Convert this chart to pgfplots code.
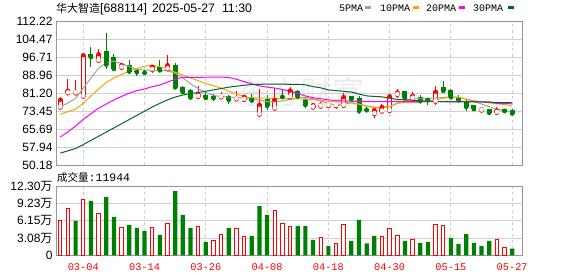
\documentclass[border=0pt]{standalone}
\usepackage{pgfplots}
\pgfplotsset{compat=1.18}
\usepackage{pgfplotstable}
\usepackage{fontspec}
\setmainfont{Liberation Sans}
\newfontfamily\cjk{Noto Sans CJK SC}
\newfontfamily\monof{Liberation Mono}
\definecolor{kred}{RGB}{255,0,0}
\definecolor{kgreen}{RGB}{0,128,0}
\definecolor{maA}{RGB}{160,160,160}
\definecolor{maB}{RGB}{240,168,0}
\definecolor{maC}{RGB}{255,0,255}
\definecolor{maD}{RGB}{0,102,51}
\definecolor{gridc}{RGB}{208,208,208}
\definecolor{framec}{RGB}{150,150,150}
\definecolor{wmark}{RGB}{236,236,236}

% red (rising) candles: index open high low close
\pgfplotstableread{
x o h l c
0 75.17 79.48 74.9 78.33
1 81.35 87.2 81.35 82.2
2 81.3 86.9 81.0 81.5
3 79.9 97.57 79.9 97.57
5 95.4 100.2 94.3 98.0
8 92.4 94.4 91.0 93.3
12 91.4 92.8 89.8 92.55
14 91.7 97.7 90.8 93.3
18 79.8 84.1 79.3 80.5
21 79.6 81.6 79.5 79.7
23 78.7 82.1 78.5 79.0
24 78.5 80.2 77.9 79.6
26 72.16 83.2 72.16 76.2
28 74.7 83.4 73.9 78.3
30 79.6 83.8 79.3 82.3
33 75.2 76.9 75.2 76.0
34 75.6 77.2 75.5 76.0
35 75.8 76.3 74.9 75.8
36 75.8 75.9 74.3 75.8
37 76.0 81.2 75.2 79.5
41 72.4 74.7 70.3 73.9
42 73.45 76.3 73.0 75.2
43 73.7 80.2 73.7 79.9
44 80.6 83.1 78.9 81.5
46 79.05 81.8 78.6 80.05
49 77.6 84.2 76.2 81.8
55 73.9 75.0 73.9 74.3
57 72.9 75.1 72.9 73.7
}\upc

% green (falling) candles
\pgfplotstableread{
x o h l c
4 97.86 101.0 92.4 96.99
6 99.3 107.05 91.8 93.7
7 96.4 98.2 90.97 91.8
9 93.0 95.3 90.7 90.7
10 90.4 91.2 88.7 90.4
11 90.1 91.1 89.0 90.1
13 92.1 95.6 91.1 91.25
15 93.0 94.1 83.6 83.9
16 83.8 84.2 81.8 81.8
17 82.5 82.8 78.5 79.5
19 80.3 81.1 79.2 79.3
20 79.8 80.9 77.8 79.2
22 79.9 80.6 76.6 78.5
25 79.3 80.9 77.9 78.2
27 78.6 80.6 73.9 75.9
29 79.7 82.9 78.9 79.7
31 81.9 82.6 79.3 79.9
32 78.3 79.2 74.6 76.3
38 79.8 80.05 78.3 78.8
39 78.8 79.8 72.4 73.7
40 74.0 75.7 73.0 74.0
45 81.9 82.3 79.05 79.3
47 79.3 80.3 77.9 77.9
48 78.3 79.2 76.0 78.3
50 83.5 86.5 82.35 82.35
51 82.35 83.2 79.2 79.6
52 79.3 80.5 78.3 78.3
53 77.0 78.3 73.7 75.5
54 76.0 76.0 74.0 74.5
56 74.0 74.3 71.9 72.9
58 74.0 74.0 72.6 73.6
59 73.6 74.3 72.0 72.6
}\dnc

% moving averages: 5, 10, 20, 30
\pgfplotstableread{
x a b c d
0 75.2 72.1 62.3 55.3
1 77.0 73.2 64.5 56.3
2 78.9 74.3 67.0 57.3
3 83.3 76.8 69.9 59.0
4 87.8 80.0 72.3 60.8
5 92.0 83.0 74.7 62.6
6 94.3 85.8 76.5 64.4
7 95.0 87.7 78.3 66.2
8 94.0 89.2 79.8 68.0
9 92.7 90.8 81.2 69.8
10 91.5 91.8 82.3 71.6
11 91.2 92.8 83.0 73.4
12 91.0 93.3 84.0 75.2
13 90.9 92.6 84.7 76.8
14 90.9 91.6 86.0 78.3
15 89.8 90.2 87.2 79.5
16 87.8 89.0 88.0 80.4
17 85.2 87.8 88.0 81.0
18 83.2 86.6 88.0 81.5
19 81.4 85.4 88.1 82.0
20 80.2 84.4 88.1 82.6
21 79.7 83.4 88.1 83.2
22 79.4 82.0 88.0 83.8
23 79.3 80.8 87.2 84.2
24 79.1 79.7 86.2 84.6
25 78.8 79.2 85.2 84.9
26 78.2 79.1 84.3 85.0
27 77.6 79.0 83.8 85.1
28 77.5 78.9 83.4 85.1
29 77.8 78.8 82.8 85.1
30 78.5 78.8 82.0 85.0
31 79.2 78.7 81.0 85.0
32 79.4 78.6 80.0 84.8
33 78.8 78.4 79.2 84.0
34 77.7 78.1 78.8 83.5
35 76.8 77.7 78.3 82.6
36 76.0 77.4 78.0 82.3
37 76.5 77.2 77.8 82.0
38 77.0 77.0 77.7 81.7
39 76.4 76.5 77.6 80.8
40 75.5 75.7 77.5 80.0
41 75.0 75.2 77.5 79.8
42 74.9 75.2 77.5 79.6
43 75.3 75.5 77.5 79.0
44 76.8 76.8 77.5 78.5
45 78.0 77.2 77.5 78.3
46 78.9 77.2 77.5 78.1
47 78.9 77.3 77.5 77.9
48 78.9 77.6 77.5 77.8
49 79.1 78.2 77.5 77.7
50 79.4 79.0 77.6 77.5
51 79.5 79.5 77.7 77.4
52 79.4 79.5 77.7 77.4
53 78.6 78.6 77.6 77.4
54 77.6 78.0 77.5 77.4
55 76.5 77.5 77.5 77.4
56 75.3 77.0 77.4 77.3
57 74.3 76.6 76.8 77.2
58 73.6 76.3 76.7 77.1
59 73.2 75.7 76.6 77.1
}\mav

% volume (10k shares), red = up vs previous close
\pgfplotstableread{
x v
0 6.09
1 8.34
3 9.93
5 7.45
8 4.97
12 4.97
14 5.68
18 5.14
20 2.54
21 3.73
23 4.67
24 3.37
28 7.87
29 5.68
30 5.09
34 3.19
36 2.13
37 5.5
42 3.37
43 4.79
44 3.55
46 2.84
49 5.5
50 5.32
57 2.84
58 1.30
}\volr

\pgfplotstableread{
x v
2 6.09
4 9.64
6 10.35
7 6.80
9 5.38
10 4.85
11 4.32
13 3.61
15 11.41
16 7.16
17 4.85
19 2.37
22 4.85
25 3.43
26 8.75
27 7.16
31 5.2
32 5.2
33 2.72
35 1.66
38 2.54
39 6.27
40 2.13
41 3.43
45 2.54
47 2.19
48 2.37
51 3.08
52 2.01
53 3.78
54 2.19
55 1.66
56 2.54
59 1.19
}\volg

\pgfplotsset{
  kbase/.style={
    scale only axis, width=466.3pt,
    xmin=-0.56, xmax=60.32,
    axis line style={draw=framec, line width=1pt},
    major tick length=0pt,
    xtick={3,11,19,27,35,43,51,59},
    xmajorgrids, ymajorgrids,
    x grid style={gridc, dash pattern=on 3pt off 3pt, line width=0.9pt},
    y grid style={gridc, line width=0.9pt},
    yticklabel style={font=\fontsize{12}{12}\selectfont, anchor=east, inner sep=0pt, xshift=-3.3pt, text=black},
  },
  wick/.style={only marks, mark=none, color=#1, error bars/.cd, y dir=both, y explicit, error mark=none,
    error bar style={color=#1, solid, line width=1pt}},
  body/.style 2 args={only marks, mark=none, color=#1, error bars/.cd, y dir=plus, y explicit, error mark=none,
    error bar style={color=#1, solid, line width=#2}},
}

\begin{document}
\begin{tikzpicture}[x=1pt,y=1pt]
\useasboundingbox (0,0) rectangle (578,276);
% watermark
\node[anchor=center, text=wmark, inner sep=0] at (300,184) {\cjk\fontsize{32}{32}\selectfont 东方财富};

% title
\node[anchor=base west, inner sep=0] at (56,263.5) {\cjk\fontsize{11}{12}\selectfont 华大智造\rmfamily\fontsize{12.3}{13}\selectfont[688114]\hspace{5pt}2025-05-27\hspace{7pt}11:30};

% legend
\node[anchor=base west, inner sep=0] at (339,264.3) {\monof\fontsize{10}{10}\selectfont 5PMA};
\fill[maA] (365,266.8) rectangle (371,269.5);
\node[anchor=base west, inner sep=0] at (380,264.3) {\monof\fontsize{10}{10}\selectfont 10PMA};
\fill[maB] (413,266.8) rectangle (419,269.5);
\node[anchor=base west, inner sep=0] at (426,264.3) {\monof\fontsize{10}{10}\selectfont 20PMA};
\fill[maC] (459,266.8) rectangle (465,269.5);
\node[anchor=base west, inner sep=0] at (473,264.3) {\monof\fontsize{10}{10}\selectfont 30PMA};
\fill[maD] (508,266.8) rectangle (514,269.5);

% volume caption
\node[anchor=base west, inner sep=0] at (57,95) {\cjk\fontsize{10.5}{11}\selectfont 成交量\monof\fontsize{11.5}{12}\selectfont:11944};

% price panel
\begin{axis}[kbase, at={(56pt,111pt)}, anchor=south west, height=143.7pt,
  ymin=50.18, ymax=112.22,
  ytick={50.18,57.94,65.69,73.45,81.20,88.96,96.71,104.47,112.22},
  yticklabels={50.18,57.94,65.69,73.45,81.20,88.96,96.71,104.47,112.22},
  xticklabels={}]
% wicks
\addplot[wick=kred]
  table[x=x, y=c, y error plus expr=\thisrow{h}-\thisrow{c}, y error minus expr=\thisrow{c}-\thisrow{l}] {\upc};
\addplot[wick=kgreen]
  table[x=x, y=c, y error plus expr=\thisrow{h}-\thisrow{c}, y error minus expr=\thisrow{c}-\thisrow{l}] {\dnc};
% red bodies (outline + white inside)
\addplot[body={kred}{5pt}]
  table[x=x, y expr=\thisrow{o}-0.216, y error plus expr=\thisrow{c}-\thisrow{o}+0.432] {\upc};
\addplot[body={white}{3pt}]
  table[x=x, y expr=\thisrow{o}+0.216, y error plus expr={max(\thisrow{c}-\thisrow{o}-0.432,0)}] {\upc};
% green bodies
\addplot[body={kgreen}{5pt}]
  table[x=x, y expr=\thisrow{c}-0.216, y error plus expr=\thisrow{o}-\thisrow{c}+0.432] {\dnc};
% moving averages
\addplot[maA, line width=1pt, mark=none] table[x=x, y=a] {\mav};
\addplot[maB, line width=1pt, mark=none] table[x=x, y=b] {\mav};
\addplot[maC, line width=1pt, mark=none] table[x=x, y=c] {\mav};
\addplot[maD, line width=1pt, mark=none] table[x=x, y=d] {\mav};
\end{axis}

% volume panel
\begin{axis}[kbase, at={(56pt,20.7pt)}, anchor=south west, height=69.3pt,
  ymin=0, ymax=12.30,
  ytick={0,3.075,6.15,9.225,12.30},
  yticklabels={0,3.08{\cjk 万},6.15{\cjk 万},9.23{\cjk 万},12.30{\cjk 万}},
  xticklabels={03-04,03-14,03-26,04-08,04-18,04-30,05-15,05-27},
  xticklabel style={font=\monof\fontsize{10.3}{10}\selectfont, text=kred, anchor=base, inner sep=0pt, yshift=-14.7pt}]
\addplot[ybar, bar width=3.4pt, bar shift=0pt, draw=kred, fill=white, line width=1pt] table[x=x, y=v] {\volr};
\addplot[ybar, bar width=4.2pt, bar shift=0pt, draw=none, fill=kgreen] table[x=x, y=v] {\volg};
\end{axis}
\end{tikzpicture}
\end{document}
